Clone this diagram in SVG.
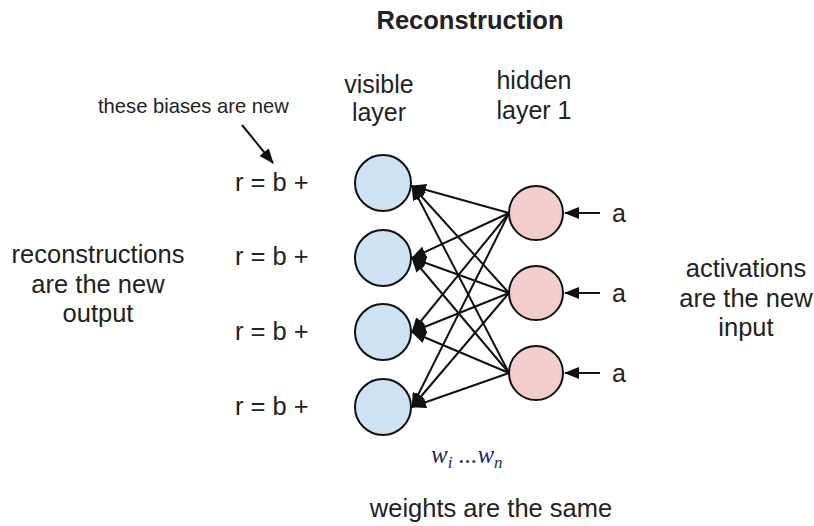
<svg xmlns="http://www.w3.org/2000/svg" width="814" height="526" viewBox="0 0 814 526">
  <style>
    text { font-family: "Liberation Sans", Arial, sans-serif; fill: #222; }
    .lbl { font-size: 25px; }
    .big { font-size: 25.5px; }
    .mid { text-anchor: middle; }
    .title { font-size: 25.5px; font-weight: bold; }
    .small { font-size: 20.2px; }
    .vis { fill: #cfe2f3; stroke: #111; stroke-width: 2; }
    .hid { fill: #f4cccc; stroke: #111; stroke-width: 2; }
    .edge { stroke: #111; stroke-width: 2; fill: none; marker-end: url(#ah); }
    .w { font-family: "Liberation Serif", "DejaVu Serif", serif; font-style: italic; fill: #1f2a5c; font-size: 25px; }
    .ws { font-size: 17px; }
  </style>
  <defs>
    <marker id="ah" markerUnits="userSpaceOnUse" markerWidth="15" markerHeight="12" viewBox="0 0 15 12" refX="14" refY="6" orient="auto">
      <path d="M0,0 L15,6 L0,12 z" fill="#111"/>
    </marker>
  </defs>

  <text class="title mid" x="470" y="29">Reconstruction</text>
  <text class="lbl mid" x="379" y="93">visible</text>
  <text class="lbl mid" x="379" y="121">layer</text>
  <text class="lbl mid" x="534" y="89">hidden</text>
  <text class="lbl mid" x="534" y="119">layer 1</text>
  <text class="small" x="98" y="113">these biases are new</text>

  <text class="big mid" x="98" y="263">reconstructions</text>
  <text class="big mid" x="98" y="293">are the new</text>
  <text class="big mid" x="98" y="322">output</text>

  <text class="big mid" x="746" y="277">activations</text>
  <text class="big mid" x="746" y="307">are the new</text>
  <text class="big mid" x="746" y="336">input</text>

  <text class="big mid" x="491" y="517">weights are the same</text>

  <text class="w" x="431" y="463">w<tspan class="ws" dy="5">i</tspan><tspan dy="-5"> ...</tspan>w<tspan class="ws" dy="5">n</tspan></text>

  <g id="connectors">
    <line class="edge" x1="242" y1="125" x2="273" y2="163"/>
    <line class="edge" x1="509" y1="213" x2="412" y2="186"/>
    <line class="edge" x1="509" y1="213" x2="412" y2="258"/>
    <line class="edge" x1="509" y1="213" x2="412" y2="332"/>
    <line class="edge" x1="509" y1="213" x2="412" y2="407"/>
    <line class="edge" x1="509" y1="293" x2="412" y2="186"/>
    <line class="edge" x1="509" y1="293" x2="412" y2="258"/>
    <line class="edge" x1="509" y1="293" x2="412" y2="332"/>
    <line class="edge" x1="509" y1="293" x2="412" y2="407"/>
    <line class="edge" x1="509" y1="373" x2="412" y2="186"/>
    <line class="edge" x1="509" y1="373" x2="412" y2="258"/>
    <line class="edge" x1="509" y1="373" x2="412" y2="332"/>
    <line class="edge" x1="509" y1="373" x2="412" y2="407"/>
    <line class="edge" x1="600" y1="213" x2="565" y2="213"/>
    <line class="edge" x1="600" y1="293" x2="565" y2="293"/>
    <line class="edge" x1="600" y1="373" x2="565" y2="373"/>
  </g>

  <g id="v1"><circle class="vis" cx="383" cy="183" r="28"/><text class="big" x="235" y="191">r = b +</text></g>
  <g id="v2"><circle class="vis" cx="383" cy="258" r="28"/><text class="big" x="235" y="265">r = b +</text></g>
  <g id="v3"><circle class="vis" cx="383" cy="332" r="28"/><text class="big" x="235" y="340">r = b +</text></g>
  <g id="v4"><circle class="vis" cx="383" cy="407" r="28"/><text class="big" x="235" y="415">r = b +</text></g>

  <g id="h1"><circle class="hid" cx="536" cy="213" r="27"/><text class="lbl" x="612" y="222">a</text></g>
  <g id="h2"><circle class="hid" cx="536" cy="293" r="27"/><text class="lbl" x="612" y="302">a</text></g>
  <g id="h3"><circle class="hid" cx="536" cy="373" r="27"/><text class="lbl" x="612" y="382">a</text></g>
</svg>
